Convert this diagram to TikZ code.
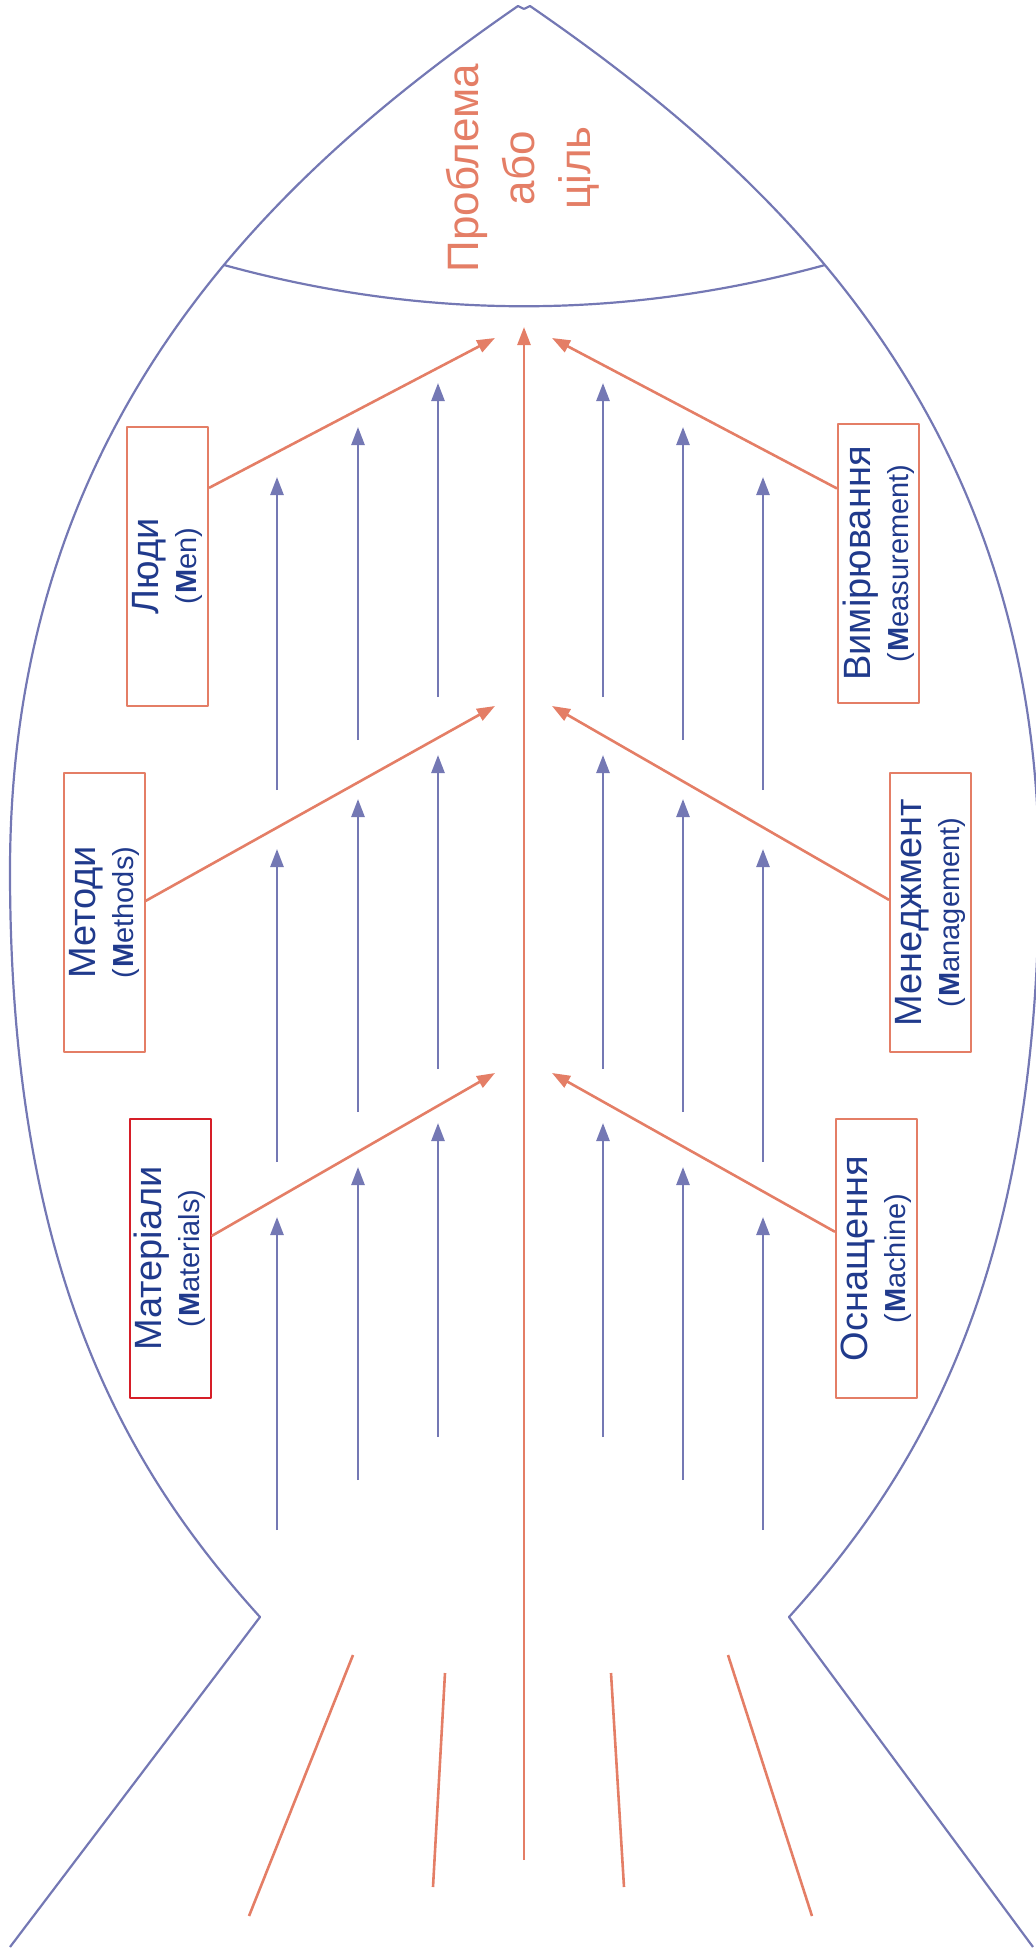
\documentclass[tikz,border=0pt]{standalone}
\usepackage{fontspec}
\setmainfont{Liberation Sans}
\usetikzlibrary{arrows.meta,calc}
\definecolor{fishblue}{RGB}{116,120,180}
\definecolor{fishorange}{RGB}{228,126,102}
\definecolor{labelblue}{RGB}{32,58,140}
\definecolor{boxred}{RGB}{214,30,40}
\newcommand{\causetext}[2]{#1\\{\fontsize{14.5}{19}\selectfont(\kern0.5pt\textbf{M}#2)}}

\begin{document}
\begin{tikzpicture}[x=0.5pt,y=-0.5pt,line join=round,>={Triangle[width=6.5pt,length=9pt]}]
\tikzset{outline/.style={fishblue,line width=1.1pt},
  bone/.style={fishorange,line width=1.3pt},
  rib/.style={fishblue,line width=1.3pt,->},
  causebox/.style={draw=fishorange,line width=1pt,rotate=90,inner sep=0pt,
    minimum width=139.5pt,minimum height=40.5pt,align=center,text=labelblue,
    font=\fontsize{19}{19}\selectfont}}
\useasboundingbox (0,0) rectangle (1035,1950);
\draw[outline] (524,9) -- (518,6) .. controls (272,176) and (10,421) .. (10,871)
  .. controls (10,1271) and (126,1469) .. (260,1617) -- (10,1947);
\draw[outline] (524,9) -- (530,6) .. controls (777,176) and (1039,421) .. (1039,871)
  .. controls (1039,1271) and (923,1469) .. (789,1617) -- (1033,1947);
\draw[outline] (224,265) .. controls (424,320) and (624,320) .. (825,265);
\node[rotate=90,align=center,text=fishorange,font=\fontsize{22}{28}\selectfont] (goal) at (523,168) {Проблема\\або\\ціль};
\coordinate (tail) at (524,1860);
\coordinate (head) at (524,327);
\draw[bone,->] (tail) -- (head);
\foreach \n/\y in {1/338,2/706,3/1073}{
  \coordinate (l\n) at (495,\y);
  \coordinate (r\n) at (552,\y);}
\node[causebox] (men) at (167.5,566) {\causetext{Люди}{en}};
\node[causebox] (methods) at (104,912.5) {\causetext{Методи}{ethods}};
\node[causebox,draw=boxred] (materials) at (170,1258.5) {\causetext{Матеріали}{aterials}};
\node[causebox] (measure) at (878.5,563.5) {\causetext{Вимірювання}{easurement}};
\node[causebox] (manage) at (930.5,912.5) {\causetext{Менеджмент}{anagement}};
\node[causebox] (machine) at (876.5,1258.5) {\causetext{Оснащення}{achine}};
\foreach \b/\f/\t in {men/0.222/l1,methods/0.459/l2,materials/0.42/l3}
  \draw[bone,->] ($(\b.south east)!\f!(\b.south west)$) -- (\t);
\foreach \b/\f/\t in {measure/0.233/r1,manage/0.455/r2,machine/0.405/r3}
  \draw[bone,->] ($(\b.north east)!\f!(\b.north west)$) -- (\t);
\foreach \x/\xr/\ya/\yb in {277/763/477/790,358/683/427/740,438/603/383/697}
  \foreach \dy in {0,372,740}{
    \draw[rib] (\x,\yb+\dy) -- (\x,\ya+\dy);
    \draw[rib] (\xr,\yb+\dy) -- (\xr,\ya+\dy);}
\foreach \xa/\ya/\xb/\yb in {353/1655/249/1916,445/1673/433/1887,611/1673/624/1887,728/1655/812/1916}
  \draw[bone] (\xa,\ya) -- (\xb,\yb);
\end{tikzpicture}
\end{document}
